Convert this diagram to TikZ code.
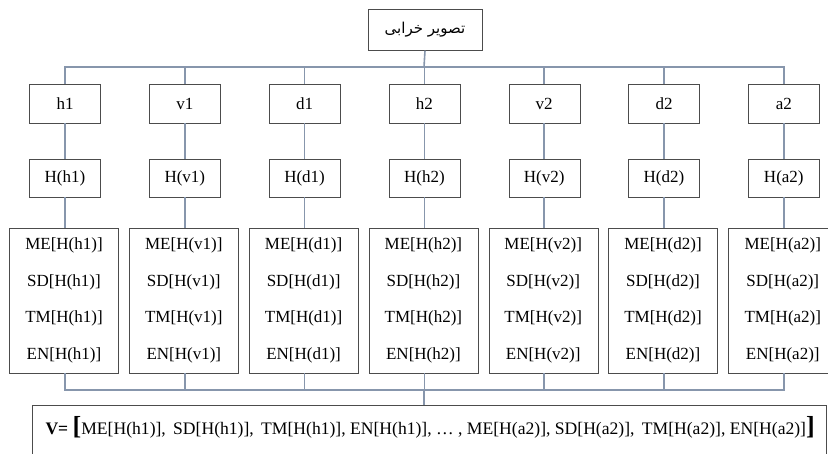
\documentclass[tikz,border=0pt]{standalone}
\usepackage{fontspec}
\setmainfont{Liberation Serif}
\newfontfamily\arabicfont[Script=Arabic]{DejaVu Sans}
\TeXXeTstate=1
\begin{document}
\begin{tikzpicture}[x=1pt,y=-1pt,
    box/.style={draw=black!70,thin,fill=white,font=\fontsize{17}{20}\selectfont},
    keybox/.style={box,minimum width=71pt,minimum height=39pt},
    statbox/.style={box,minimum width=109pt,minimum height=145pt,align=center,
      font=\fontsize{17}{36.5}\selectfont},
    link/.style={draw={rgb,255:red,135;green,150;blue,172},line width=1.6pt}]
  \useasboundingbox (0,0) rectangle (828,454);
  \node[box,minimum width=114pt,minimum height=41pt] (top) at (425,30)
    {\arabicfont\fontsize{15}{18}\selectfont\beginR تصویر خرابی\endR};
  \foreach \i/\k [count=\n] in {h1,v1,d1,h2,v2,d2,a2} {
    \node[keybox] (k\n) at ({65+119.8*(\n-1)},103.5) {\k};
    \node[keybox,minimum height=38pt] (e\n) at ({65+119.8*(\n-1)},178) {H(\k)};
    \node[statbox] (s\n) at ({64+119.8*(\n-1)},300.5)
      {ME[H(\k)]\\SD[H(\k)]\\TM[H(\k)]\\EN[H(\k)]};
  }
  \node[box,draw,minimum width=794pt,minimum height=64pt,anchor=north west,
    inner sep=0pt] (vec) at (32,405) {};
  \node[font=\fontsize{17.6}{20}\selectfont,anchor=west] (vtext) at (42,427)
    {\textbf{V=} {\fontsize{26}{26}\selectfont\textbf{[}}ME[H(h1)], \,SD[H(h1)], \,TM[H(h1)], EN[H(h1)], \dots\ , ME[H(a2)], SD[H(a2)], \,TM[H(a2)], EN[H(a2)]{\fontsize{26}{26}\selectfont\textbf{]}}};
  % connectors
  \coordinate (jt) at (424,67);
  \coordinate (jb) at (424,390);
  \draw[link] (top.south) -- (jt);
  \draw[link] (jb) -- (vec.north -| jb);
  \foreach \n in {1,...,7} {
    \draw[link] (k\n.north) |- (jt);
    \draw[link] (k\n.south) -- (e\n.north);
    \draw[link] (e\n.south) -- (s\n.north -| e\n.south);
    \draw[link] (s\n.south -| e\n.south) |- (jb);
  }
\end{tikzpicture}
\end{document}
